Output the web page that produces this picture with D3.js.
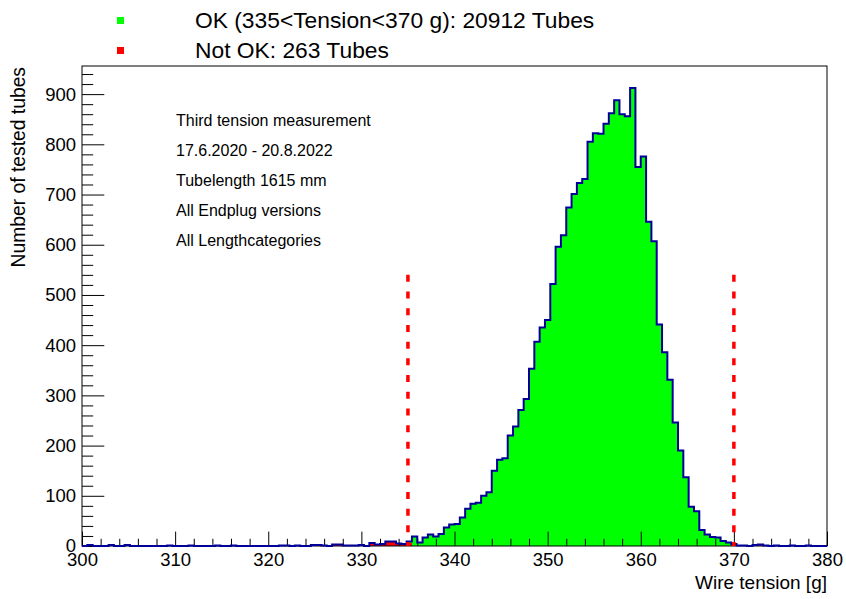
<!DOCTYPE html>
<html>
<head>
<meta charset="utf-8">
<script src="https://cdn.jsdelivr.net/npm/d3@7/dist/d3.min.js"></script>
<style>
  html, body { margin: 0; padding: 0; background: #fff; }
  svg { display: block; font-family: "Liberation Sans", Arial, Helvetica, sans-serif; }
</style>
</head>
<body>
<svg id="chart" width="846" height="599"></svg>
<script>
// Histogram of wire tension: 140 bins from 300 g to 380 g
const binStart = 300;
const binEnd = 380;
const binCount = 140;

// Tubes inside the accepted window (335 < T < 370 g), per bin
const okTubes = [
  0, 0, 0, 0, 0, 0, 0, 0, 0, 0,
  0, 0, 0, 0, 0, 0, 0, 0, 0, 0,
  0, 0, 0, 0, 0, 0, 0, 0, 0, 0,
  0, 0, 0, 0, 0, 0, 0, 0, 0, 0,
  0, 0, 0, 0, 0, 0, 0, 0, 0, 0,
  0, 0, 0, 0, 0, 0, 0, 0, 0, 0,
  0, 3, 19, 7, 17, 23, 19, 24, 37, 43,
  44, 57, 74, 84, 86, 100, 107, 150, 172, 175,
  220, 238, 271, 293, 353, 407, 435, 450, 522, 596,
  619, 674, 701, 723, 731, 805, 822, 821, 841, 862,
  888, 860, 856, 912, 755, 776, 646, 607, 441, 386,
  331, 246, 190, 137, 78, 69, 32, 23, 18, 17,
  10, 7, 2, 0, 0, 0, 0, 0, 0, 0,
  0, 0, 0, 0, 0, 0, 0, 0, 0, 0
];

// Tubes outside the accepted window, per bin
const notOkTubes = [
  0, 2, 0, 0, 0, 2, 0, 0, 2, 0,
  0, 0, 0, 0, 0, 0, 1, 0, 0, 0,
  1, 0, 0, 0, 0, 1, 0, 0, 1, 0,
  0, 0, 0, 0, 0, 0, 0, 1, 1, 0,
  1, 0, 0, 2, 2, 1, 0, 3, 3, 1,
  1, 1, 2, 0, 6, 3, 4, 9, 9, 5,
  4, 6, 0, 0, 0, 0, 0, 0, 0, 0,
  0, 0, 0, 0, 0, 0, 0, 0, 0, 0,
  0, 0, 0, 0, 0, 0, 0, 0, 0, 0,
  0, 0, 0, 0, 0, 0, 0, 0, 0, 0,
  0, 0, 0, 0, 0, 0, 0, 0, 0, 0,
  0, 0, 0, 0, 0, 0, 0, 0, 0, 0,
  0, 0, 2, 1, 1, 0, 2, 3, 1, 0,
  1, 0, 0, 1, 0, 0, 1, 0, 0, 0
];

const xMajorTicks = [300, 310, 320, 330, 340, 350, 360, 370, 380];
const yMajorTicks = [0, 100, 200, 300, 400, 500, 600, 700, 800, 900];
const limits = [335, 370];
const limitLineTop = 540;
const yMax = 956;

const legendItems = [
  { label: "OK (335<Tension<370 g): 20912 Tubes", color: "#00ff00" },
  { label: "Not OK: 263 Tubes", color: "#ff0000" }
];
const infoLines = [
  "Third tension measurement",
  "17.6.2020 - 20.8.2022",
  "Tubelength 1615 mm",
  "All Endplug versions",
  "All Lengthcategories"
];

const frame = { left: 82, top: 66, right: 827, bottom: 546 };
const svg = d3.select("#chart");

const x = d3.scaleLinear().domain([binStart, binEnd]).range([frame.left, frame.right]);
const y = d3.scaleLinear().domain([0, yMax]).range([frame.bottom, frame.top]);

const binWidth = (binEnd - binStart) / binCount;
const totals = okTubes.map((v, i) => v + notOkTubes[i]);

// Step points: left edge of each bin, plus a closing point at the last edge
function stepPoints(values) {
  const pts = values.map((v, i) => [binStart + i * binWidth, v]);
  pts.push([binEnd, values[values.length - 1]]);
  return pts;
}

const area = d3.area()
  .x(d => x(d[0]))
  .y0(y(0))
  .y1(d => y(d[1]))
  .curve(d3.curveStepAfter);

const line = d3.line()
  .x(d => x(d[0]))
  .y(d => y(d[1]))
  .curve(d3.curveStepAfter);

// Filled histograms
svg.append("path")
  .attr("d", area(stepPoints(totals)))
  .attr("fill", "#00ff00");
svg.append("path")
  .attr("d", area(stepPoints(notOkTubes)))
  .attr("fill", "#ff0000");

// Axes (ticks point into the frame)
const xMinor = d3.range(binStart, binEnd + 0.001, 2).filter(v => v % 10 !== 0);
const yMinor = d3.range(0, yMax, 20).filter(v => v % 100 !== 0);

const xAxisMinor = svg.append("g")
  .attr("transform", `translate(0,${frame.bottom})`)
  .call(d3.axisBottom(x).tickValues(xMinor).tickSizeInner(-7.2).tickSizeOuter(0).tickFormat(""));
const xAxis = svg.append("g")
  .attr("transform", `translate(0,${frame.bottom})`)
  .call(d3.axisBottom(x).tickValues(xMajorTicks).tickSizeInner(-14.4).tickSizeOuter(0).tickPadding(7));
const yAxisMinor = svg.append("g")
  .attr("transform", `translate(${frame.left},0)`)
  .call(d3.axisLeft(y).tickValues(yMinor).tickSizeInner(-11.2).tickSizeOuter(0).tickFormat(""));
const yAxis = svg.append("g")
  .attr("transform", `translate(${frame.left},0)`)
  .call(d3.axisLeft(y).tickValues(yMajorTicks).tickSizeInner(-22.3).tickSizeOuter(0).tickPadding(6));

[xAxisMinor, xAxis, yAxisMinor, yAxis].forEach(g => {
  g.select(".domain").remove();
  g.selectAll(".tick line").attr("stroke", "#000").attr("stroke-width", 1);
  g.selectAll(".tick text")
    .attr("fill", "#000")
    .style("font-size", "18.5px")
    .style("font-family", "'Liberation Sans', Arial, sans-serif");
});

// Frame
svg.append("rect")
  .attr("x", frame.left)
  .attr("y", frame.top)
  .attr("width", frame.right - frame.left)
  .attr("height", frame.bottom - frame.top)
  .attr("fill", "none")
  .attr("stroke", "#000")
  .attr("stroke-width", 1);

// Histogram outline
svg.append("path")
  .attr("d", line(stepPoints(totals)))
  .attr("fill", "none")
  .attr("stroke", "#000099")
  .attr("stroke-width", 2);

// Tension limits
svg.selectAll(".limit")
  .data(limits)
  .join("line")
  .attr("class", "limit")
  .attr("x1", d => x(d))
  .attr("x2", d => x(d))
  .attr("y1", y(limitLineTop))
  .attr("y2", y(0))
  .attr("stroke", "#ff0000")
  .attr("stroke-width", 3.5)
  .attr("stroke-dasharray", "7,9.7");

// Axis titles
svg.append("text")
  .attr("x", frame.right)
  .attr("y", 589)
  .attr("text-anchor", "end")
  .style("font-size", "19px")
  .text("Wire tension [g]");

svg.append("text")
  .attr("transform", `translate(25,${frame.top + 1}) rotate(-90)`)
  .attr("text-anchor", "end")
  .style("font-size", "19.3px")
  .text("Number of tested tubes");

// Legend
const legend = svg.append("g");
legendItems.forEach((item, i) => {
  const cy = 20.5 + i * 30;
  legend.append("rect")
    .attr("x", 117)
    .attr("y", cy - 3.5)
    .attr("width", 7)
    .attr("height", 7)
    .attr("fill", item.color);
  legend.append("text")
    .attr("x", 195)
    .attr("y", cy + 7.5)
    .style("font-size", "22.8px")
    .text(item.label);
});

// Measurement information
svg.selectAll(".info")
  .data(infoLines)
  .join("text")
  .attr("class", "info")
  .attr("x", 176)
  .attr("y", (d, i) => 125.5 + i * 30.2)
  .style("font-size", "16px")
  .text(d => d);
</script>
</body>
</html>
